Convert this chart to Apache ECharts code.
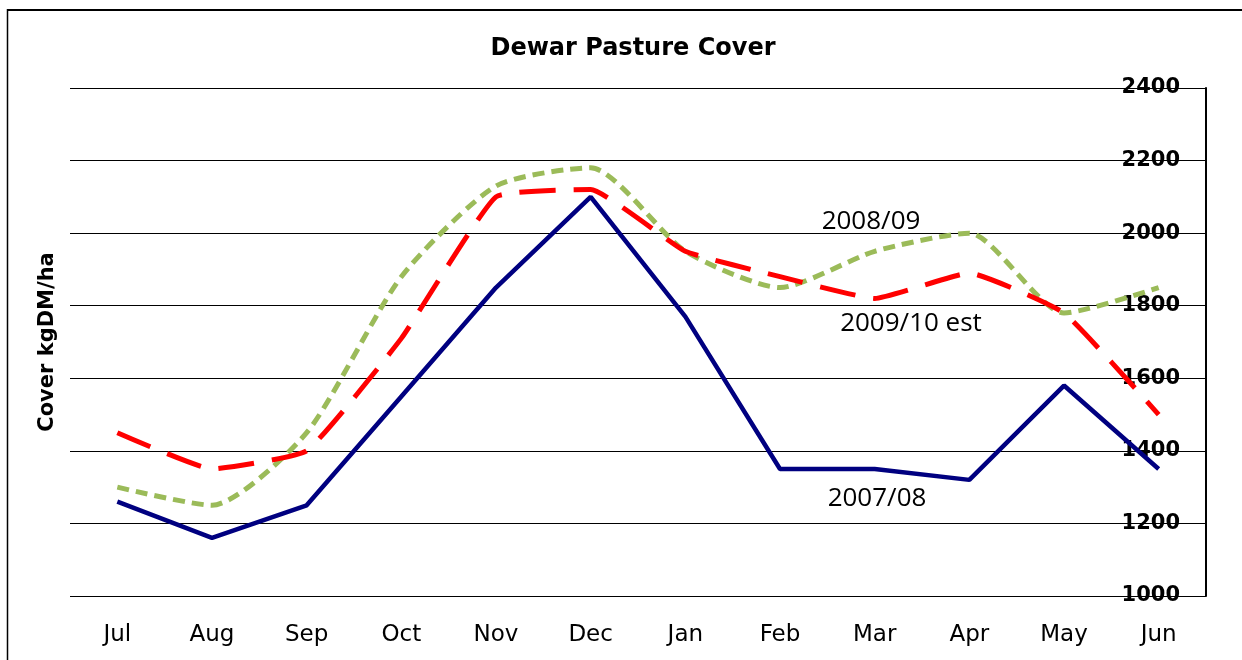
<!DOCTYPE html>
<html>
<head>
<meta charset="utf-8">
<script src="https://cdn.jsdelivr.net/npm/echarts@6/dist/echarts.min.js"></script>
<style>
html,body{margin:0;padding:0;background:#fff;}
#chart{width:1242px;height:660px;}
</style>
</head>
<body>
<div id="chart"></div>
<script>
const months = ['Jul','Aug','Sep','Oct','Nov','Dec','Jan','Feb','Mar','Apr','May','Jun'];
const s0708 = [1260,1160,1250,1550,1850,2100,1770,1350,1350,1320,1580,1350];
const s0809 = [1300,1250,1450,1880,2130,2180,1950,1850,1950,2000,1780,1850];
const s0910 = [1450,1350,1400,1710,2100,2120,1950,1880,1820,1890,1780,1500];
const yMin = 1000, yMax = 2400, yStep = 200;

const chart = echarts.init(document.getElementById('chart'), null, {renderer:'canvas'});
chart.setOption({
  animation:false,
  backgroundColor:'#fff',
  title:{
    text:'Dewar Pasture Cover', left:628, top:32, textAlign:'center',
    textStyle:{fontFamily:'DejaVu Sans', fontWeight:'bold', fontSize:24, color:'#000'}
  },
  grid:{left:70, right:36, top:88, bottom:64},
  xAxis:{
    type:'category', data:months, boundaryGap:true,
    axisLine:{show:false}, axisTick:{show:false},
    axisLabel:{margin:28, fontFamily:'DejaVu Sans', fontSize:23, color:'#000'}
  },
  yAxis:[{
    type:'value', position:'right', min:yMin, max:yMax, interval:yStep,
    axisLine:{show:true, lineStyle:{color:'#000', width:2}},
    axisTick:{show:false},
    axisLabel:{inside:true, margin:26, fontFamily:'DejaVu Sans', fontWeight:'bold', fontSize:21, color:'#000',
      formatter:function(v){return String(v);}},
    splitLine:{show:true, lineStyle:{color:'#000', width:1}}
  },{
    type:'value', position:'left', min:yMin, max:yMax, interval:yStep,
    name:'Cover kgDM/ha', nameLocation:'middle', nameRotate:90, nameGap:12,
    nameTextStyle:{fontFamily:'DejaVu Sans', fontWeight:'bold', fontSize:21, color:'#000'},
    axisLine:{show:false}, axisTick:{show:false}, axisLabel:{show:false}, splitLine:{show:false}
  }],
  series:[
    {name:'2007/08', type:'line', data:s0708, symbol:'none',
     lineStyle:{color:'#000080', width:4.5}, z:3},
    {name:'2008/09', type:'line', data:s0809, symbol:'none', smooth:0.22,
     lineStyle:{color:'#9BBB59', width:5, type:[12,7], cap:'butt'}, z:2},
    {name:'2009/10 est', type:'line', data:s0910, symbol:'none', smooth:0.12,
     lineStyle:{color:'#FF0000', width:5, type:[36,18], cap:'butt'}, z:4}
  ],
  graphic:[
    {type:'line', shape:{x1:7, y1:10, x2:1242, y2:10}, style:{stroke:'#000', lineWidth:2}},
    {type:'line', shape:{x1:7.5, y1:9, x2:7.5, y2:660}, style:{stroke:'#000', lineWidth:1.5}},
    {type:'text', x:871, y:222, style:{text:'2008/09', fontFamily:'Open Sans', fontSize:26, fill:'#000', textAlign:'center', textVerticalAlign:'middle'}},
    {type:'text', x:911, y:324, style:{text:'2009/10 est', fontFamily:'Open Sans', fontSize:26, fill:'#000', textAlign:'center', textVerticalAlign:'middle'}},
    {type:'text', x:877, y:499, style:{text:'2007/08', fontFamily:'Open Sans', fontSize:26, fill:'#000', textAlign:'center', textVerticalAlign:'middle'}}
  ]
});
</script>
</body>
</html>
